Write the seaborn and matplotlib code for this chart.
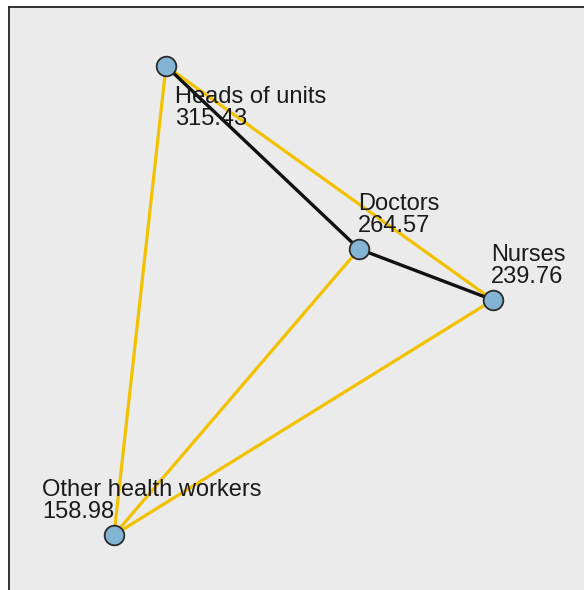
import matplotlib
import matplotlib.pyplot as plt
import pandas as pd
import seaborn as sns

matplotlib.use("Agg")

# node layout (pixel-like layout coordinates)
node_names = ["Heads of units", "Doctors", "Nurses", "Other health workers"]
node_values = [315.43, 264.57, 239.76, 158.98]
layout_x = [166, 359, 493, 114]
layout_y = [66, 249, 300, 535]

# edges: (source, target)
yellow_edges = [
    ("Heads of units", "Other health workers"),
    ("Heads of units", "Nurses"),
    ("Doctors", "Other health workers"),
    ("Nurses", "Other health workers"),
]
black_edges = [
    ("Heads of units", "Doctors"),
    ("Doctors", "Nurses"),
]

# label anchor (top-left of text block) per node
label_dx = [9, -1, -2, -72]
label_dy = [20, -56, -56, -56]

nodes = pd.DataFrame({"name": node_names, "value": node_values, "x": layout_x, "y": layout_y})
pos = {row.name: (row.x, row.y) for row in nodes.itertuples()}

sns.set_theme(style="white")
plt.rcParams["font.family"] = ["Liberation Sans", "DejaVu Sans"]

fig = plt.figure(figsize=(5.84, 5.90), dpi=100)
ax = fig.add_axes([9 / 584, -20 / 590, 600 / 584, (590 - 7 + 20) / 590])
ax.set_facecolor("#ebebeb")
ax.set_xlim(9, 609)
ax.set_ylim(610, 7)
for spine in ax.spines.values():
    spine.set_color("#222222")
    spine.set_linewidth(1.3)
ax.set_xticks([])
ax.set_yticks([])

for src, dst in yellow_edges:
    ax.plot([pos[src][0], pos[dst][0]], [pos[src][1], pos[dst][1]],
            color="#f2c100", linewidth=2.3, zorder=1, solid_capstyle="round")
for src, dst in black_edges:
    ax.plot([pos[src][0], pos[dst][0]], [pos[src][1], pos[dst][1]],
            color="#111111", linewidth=2.4, zorder=2, solid_capstyle="round")

sns.scatterplot(data=nodes, x="x", y="y", s=200, color="#84b4d3",
                edgecolor="#2b2b2b", linewidth=1.3, zorder=3, ax=ax, legend=False)
ax.set_xlabel("")
ax.set_ylabel("")

for row, dx, dy in zip(nodes.itertuples(), label_dx, label_dy):
    ax.text(row.x + dx, row.y + dy, f"{row.name}\n{row.value:.2f}",
            ha="left", va="top", fontsize=17, color="#1a1a1a",
            linespacing=1.0, zorder=4)

fig.savefig("out.png", dpi=100)
plt.close(fig)
